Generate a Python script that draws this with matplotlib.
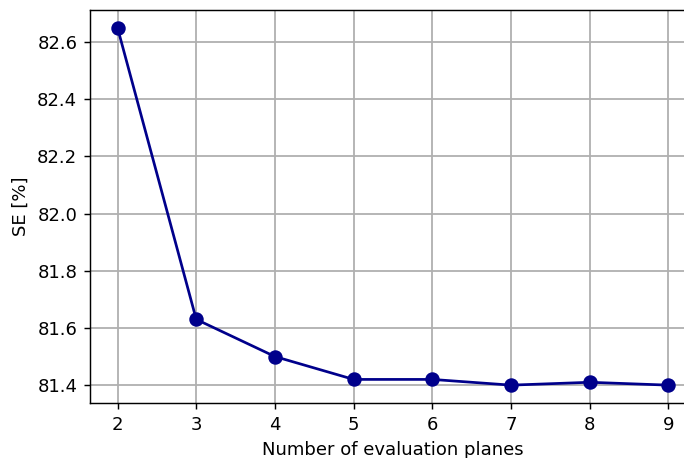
import matplotlib
matplotlib.use("Agg")
import matplotlib.pyplot as plt

planes = [2, 3, 4, 5, 6, 7, 8, 9]
se = [82.65, 81.63, 81.50, 81.42, 81.42, 81.40, 81.41, 81.40]

dpi = 130
fig = plt.figure(figsize=(684/dpi, 458/dpi), dpi=dpi)
ax = fig.add_axes([90/684, (458-403)/458, (696-90)/684, (403-10)/458])
ax.plot(planes, se, marker='o', color='darkblue', markersize=7, linewidth=1.5)
ax.set_xlabel('Number of evaluation planes')
ax.set_ylabel('SE [%]')
ax.grid(True, color='#b0b0b0', linewidth=1.0)
ax.set_axisbelow(True)
fig.savefig('out.png', dpi=dpi)
